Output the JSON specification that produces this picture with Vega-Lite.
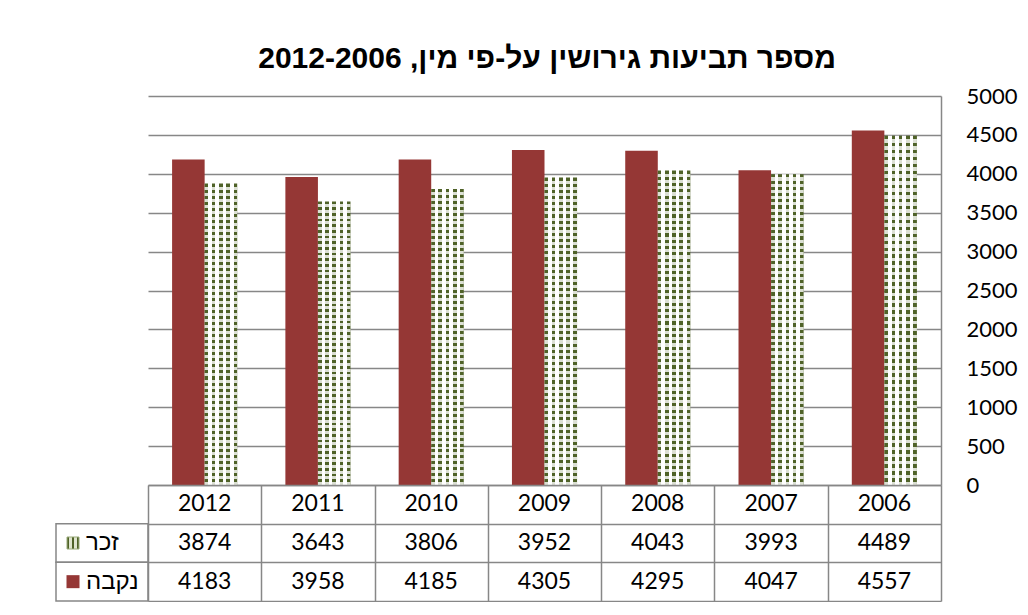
{
  "$schema": "https://vega.github.io/schema/vega-lite/v6.json",
  "background": "white",
  "padding": {"left": 55, "top": 44, "right": 0, "bottom": 0},
  "title": {"text": "\u202Bמספר תביעות גירושין על-פי מין, 2012-2006\u202C", "font": "Liberation Sans", "fontSize": 30, "fontWeight": "bold", "color": "#000000", "anchor": "middle", "offset": 11, "dx": 11},
  "datasets": {
    "divorce": [
      {"year": "2012", "sex": "זכר", "value": 3874},
      {"year": "2012", "sex": "נקבה", "value": 4183},
      {"year": "2011", "sex": "זכר", "value": 3643},
      {"year": "2011", "sex": "נקבה", "value": 3958},
      {"year": "2010", "sex": "זכר", "value": 3806},
      {"year": "2010", "sex": "נקבה", "value": 4185},
      {"year": "2009", "sex": "זכר", "value": 3952},
      {"year": "2009", "sex": "נקבה", "value": 4305},
      {"year": "2008", "sex": "זכר", "value": 4043},
      {"year": "2008", "sex": "נקבה", "value": 4295},
      {"year": "2007", "sex": "זכר", "value": 3993},
      {"year": "2007", "sex": "נקבה", "value": 4047},
      {"year": "2006", "sex": "זכר", "value": 4489},
      {"year": "2006", "sex": "נקבה", "value": 4557}
    ]
  },
  "columns": 2,
  "spacing": 0,
  "bounds": "flush",
  "concat": [
    {
      "width": 92, "height": 389,
      "data": {"name": "divorce"},
      "mark": {"type": "text", "text": ""}
    },
    {
      "width": 793, "height": 389,
      "data": {"name": "divorce"},
      "encoding": {
        "x": {"field": "year", "type": "nominal", "sort": "descending", "scale": {"paddingInner": 0, "paddingOuter": 0}, "axis": null},
        "xOffset": {"field": "sex", "type": "nominal", "scale": {"domain": ["נקבה", "זכר"], "paddingInner": 0, "paddingOuter": 0.74}},
        "y": {"field": "value", "type": "quantitative", "scale": {"domain": [0, 5000], "nice": false},
          "axis": {"orient": "right", "values": [0, 500, 1000, 1500, 2000, 2500, 3000, 3500, 4000, 4500, 5000], "format": "d", "title": null, "grid": true, "gridColor": "#878787", "gridWidth": 1.5, "domain": true, "domainColor": "#878787", "domainWidth": 1.5, "ticks": false, "labelPadding": 25, "labelAlign": "left", "labelFont": "Lato", "labelFontSize": 22, "labelColor": "#000000"}}
      },
      "layer": [
        {"transform": [{"filter": "datum.sex == 'נקבה'"}], "mark": {"type": "bar", "fill": "#953735"}},
        {"transform": [{"filter": "datum.sex == 'זכר'"}], "mark": {"type": "bar", "fill": {"gradient": "linear", "x1": 0, "y1": 0, "x2": 1, "y2": 0, "stops": [
          {"offset": 0, "color": "#4F6228"}, {"offset": 0.111, "color": "#4F6228"}, {"offset": 0.111, "color": "#ffffff"}, {"offset": 0.222, "color": "#ffffff"},
          {"offset": 0.222, "color": "#4F6228"}, {"offset": 0.333, "color": "#4F6228"}, {"offset": 0.333, "color": "#ffffff"}, {"offset": 0.444, "color": "#ffffff"},
          {"offset": 0.444, "color": "#4F6228"}, {"offset": 0.556, "color": "#4F6228"}, {"offset": 0.556, "color": "#ffffff"}, {"offset": 0.667, "color": "#ffffff"},
          {"offset": 0.667, "color": "#4F6228"}, {"offset": 0.778, "color": "#4F6228"}, {"offset": 0.778, "color": "#ffffff"}, {"offset": 0.889, "color": "#ffffff"},
          {"offset": 0.889, "color": "#4F6228"}, {"offset": 1, "color": "#4F6228"}]}}},
        {"transform": [{"filter": "datum.sex == 'זכר'"}], "mark": {"type": "bar", "fill": {"gradient": "linear", "x1": 0, "y1": 0, "x2": 0, "y2": 1, "stops": [
          {"offset": 0, "color": "rgba(255,255,255,0)"}, {"offset": 0.01, "color": "rgba(255,255,255,0)"}, {"offset": 0.01, "color": "rgba(255,255,255,0.8)"}, {"offset": 0.02, "color": "rgba(255,255,255,0.8)"},
          {"offset": 0.02, "color": "rgba(255,255,255,0)"}, {"offset": 0.03, "color": "rgba(255,255,255,0)"}, {"offset": 0.03, "color": "rgba(255,255,255,0.8)"}, {"offset": 0.04, "color": "rgba(255,255,255,0.8)"},
          {"offset": 0.04, "color": "rgba(255,255,255,0)"}, {"offset": 0.05, "color": "rgba(255,255,255,0)"}, {"offset": 0.05, "color": "rgba(255,255,255,0.8)"}, {"offset": 0.06, "color": "rgba(255,255,255,0.8)"},
          {"offset": 0.06, "color": "rgba(255,255,255,0)"}, {"offset": 0.07, "color": "rgba(255,255,255,0)"}, {"offset": 0.07, "color": "rgba(255,255,255,0.8)"}, {"offset": 0.08, "color": "rgba(255,255,255,0.8)"},
          {"offset": 0.08, "color": "rgba(255,255,255,0)"}, {"offset": 0.09, "color": "rgba(255,255,255,0)"}, {"offset": 0.09, "color": "rgba(255,255,255,0.8)"}, {"offset": 0.10, "color": "rgba(255,255,255,0.8)"},
          {"offset": 0.10, "color": "rgba(255,255,255,0)"}, {"offset": 0.11, "color": "rgba(255,255,255,0)"}, {"offset": 0.11, "color": "rgba(255,255,255,0.8)"}, {"offset": 0.12, "color": "rgba(255,255,255,0.8)"},
          {"offset": 0.12, "color": "rgba(255,255,255,0)"}, {"offset": 0.13, "color": "rgba(255,255,255,0)"}, {"offset": 0.13, "color": "rgba(255,255,255,0.8)"}, {"offset": 0.14, "color": "rgba(255,255,255,0.8)"},
          {"offset": 0.14, "color": "rgba(255,255,255,0)"}, {"offset": 0.15, "color": "rgba(255,255,255,0)"}, {"offset": 0.15, "color": "rgba(255,255,255,0.8)"}, {"offset": 0.16, "color": "rgba(255,255,255,0.8)"},
          {"offset": 0.16, "color": "rgba(255,255,255,0)"}, {"offset": 0.17, "color": "rgba(255,255,255,0)"}, {"offset": 0.17, "color": "rgba(255,255,255,0.8)"}, {"offset": 0.18, "color": "rgba(255,255,255,0.8)"},
          {"offset": 0.18, "color": "rgba(255,255,255,0)"}, {"offset": 0.19, "color": "rgba(255,255,255,0)"}, {"offset": 0.19, "color": "rgba(255,255,255,0.8)"}, {"offset": 0.20, "color": "rgba(255,255,255,0.8)"},
          {"offset": 0.20, "color": "rgba(255,255,255,0)"}, {"offset": 0.21, "color": "rgba(255,255,255,0)"}, {"offset": 0.21, "color": "rgba(255,255,255,0.8)"}, {"offset": 0.22, "color": "rgba(255,255,255,0.8)"},
          {"offset": 0.22, "color": "rgba(255,255,255,0)"}, {"offset": 0.23, "color": "rgba(255,255,255,0)"}, {"offset": 0.23, "color": "rgba(255,255,255,0.8)"}, {"offset": 0.24, "color": "rgba(255,255,255,0.8)"},
          {"offset": 0.24, "color": "rgba(255,255,255,0)"}, {"offset": 0.25, "color": "rgba(255,255,255,0)"}, {"offset": 0.25, "color": "rgba(255,255,255,0.8)"}, {"offset": 0.26, "color": "rgba(255,255,255,0.8)"},
          {"offset": 0.26, "color": "rgba(255,255,255,0)"}, {"offset": 0.27, "color": "rgba(255,255,255,0)"}, {"offset": 0.27, "color": "rgba(255,255,255,0.8)"}, {"offset": 0.28, "color": "rgba(255,255,255,0.8)"},
          {"offset": 0.28, "color": "rgba(255,255,255,0)"}, {"offset": 0.29, "color": "rgba(255,255,255,0)"}, {"offset": 0.29, "color": "rgba(255,255,255,0.8)"}, {"offset": 0.30, "color": "rgba(255,255,255,0.8)"},
          {"offset": 0.30, "color": "rgba(255,255,255,0)"}, {"offset": 0.31, "color": "rgba(255,255,255,0)"}, {"offset": 0.31, "color": "rgba(255,255,255,0.8)"}, {"offset": 0.32, "color": "rgba(255,255,255,0.8)"},
          {"offset": 0.32, "color": "rgba(255,255,255,0)"}, {"offset": 0.33, "color": "rgba(255,255,255,0)"}, {"offset": 0.33, "color": "rgba(255,255,255,0.8)"}, {"offset": 0.34, "color": "rgba(255,255,255,0.8)"},
          {"offset": 0.34, "color": "rgba(255,255,255,0)"}, {"offset": 0.35, "color": "rgba(255,255,255,0)"}, {"offset": 0.35, "color": "rgba(255,255,255,0.8)"}, {"offset": 0.36, "color": "rgba(255,255,255,0.8)"},
          {"offset": 0.36, "color": "rgba(255,255,255,0)"}, {"offset": 0.37, "color": "rgba(255,255,255,0)"}, {"offset": 0.37, "color": "rgba(255,255,255,0.8)"}, {"offset": 0.38, "color": "rgba(255,255,255,0.8)"},
          {"offset": 0.38, "color": "rgba(255,255,255,0)"}, {"offset": 0.39, "color": "rgba(255,255,255,0)"}, {"offset": 0.39, "color": "rgba(255,255,255,0.8)"}, {"offset": 0.40, "color": "rgba(255,255,255,0.8)"},
          {"offset": 0.40, "color": "rgba(255,255,255,0)"}, {"offset": 0.41, "color": "rgba(255,255,255,0)"}, {"offset": 0.41, "color": "rgba(255,255,255,0.8)"}, {"offset": 0.42, "color": "rgba(255,255,255,0.8)"},
          {"offset": 0.42, "color": "rgba(255,255,255,0)"}, {"offset": 0.43, "color": "rgba(255,255,255,0)"}, {"offset": 0.43, "color": "rgba(255,255,255,0.8)"}, {"offset": 0.44, "color": "rgba(255,255,255,0.8)"},
          {"offset": 0.44, "color": "rgba(255,255,255,0)"}, {"offset": 0.45, "color": "rgba(255,255,255,0)"}, {"offset": 0.45, "color": "rgba(255,255,255,0.8)"}, {"offset": 0.46, "color": "rgba(255,255,255,0.8)"},
          {"offset": 0.46, "color": "rgba(255,255,255,0)"}, {"offset": 0.47, "color": "rgba(255,255,255,0)"}, {"offset": 0.47, "color": "rgba(255,255,255,0.8)"}, {"offset": 0.48, "color": "rgba(255,255,255,0.8)"},
          {"offset": 0.48, "color": "rgba(255,255,255,0)"}, {"offset": 0.49, "color": "rgba(255,255,255,0)"}, {"offset": 0.49, "color": "rgba(255,255,255,0.8)"}, {"offset": 0.50, "color": "rgba(255,255,255,0.8)"},
          {"offset": 0.50, "color": "rgba(255,255,255,0)"}, {"offset": 0.51, "color": "rgba(255,255,255,0)"}, {"offset": 0.51, "color": "rgba(255,255,255,0.8)"}, {"offset": 0.52, "color": "rgba(255,255,255,0.8)"},
          {"offset": 0.52, "color": "rgba(255,255,255,0)"}, {"offset": 0.53, "color": "rgba(255,255,255,0)"}, {"offset": 0.53, "color": "rgba(255,255,255,0.8)"}, {"offset": 0.54, "color": "rgba(255,255,255,0.8)"},
          {"offset": 0.54, "color": "rgba(255,255,255,0)"}, {"offset": 0.55, "color": "rgba(255,255,255,0)"}, {"offset": 0.55, "color": "rgba(255,255,255,0.8)"}, {"offset": 0.56, "color": "rgba(255,255,255,0.8)"},
          {"offset": 0.56, "color": "rgba(255,255,255,0)"}, {"offset": 0.57, "color": "rgba(255,255,255,0)"}, {"offset": 0.57, "color": "rgba(255,255,255,0.8)"}, {"offset": 0.58, "color": "rgba(255,255,255,0.8)"},
          {"offset": 0.58, "color": "rgba(255,255,255,0)"}, {"offset": 0.59, "color": "rgba(255,255,255,0)"}, {"offset": 0.59, "color": "rgba(255,255,255,0.8)"}, {"offset": 0.60, "color": "rgba(255,255,255,0.8)"},
          {"offset": 0.60, "color": "rgba(255,255,255,0)"}, {"offset": 0.61, "color": "rgba(255,255,255,0)"}, {"offset": 0.61, "color": "rgba(255,255,255,0.8)"}, {"offset": 0.62, "color": "rgba(255,255,255,0.8)"},
          {"offset": 0.62, "color": "rgba(255,255,255,0)"}, {"offset": 0.63, "color": "rgba(255,255,255,0)"}, {"offset": 0.63, "color": "rgba(255,255,255,0.8)"}, {"offset": 0.64, "color": "rgba(255,255,255,0.8)"},
          {"offset": 0.64, "color": "rgba(255,255,255,0)"}, {"offset": 0.65, "color": "rgba(255,255,255,0)"}, {"offset": 0.65, "color": "rgba(255,255,255,0.8)"}, {"offset": 0.66, "color": "rgba(255,255,255,0.8)"},
          {"offset": 0.66, "color": "rgba(255,255,255,0)"}, {"offset": 0.67, "color": "rgba(255,255,255,0)"}, {"offset": 0.67, "color": "rgba(255,255,255,0.8)"}, {"offset": 0.68, "color": "rgba(255,255,255,0.8)"},
          {"offset": 0.68, "color": "rgba(255,255,255,0)"}, {"offset": 0.69, "color": "rgba(255,255,255,0)"}, {"offset": 0.69, "color": "rgba(255,255,255,0.8)"}, {"offset": 0.70, "color": "rgba(255,255,255,0.8)"},
          {"offset": 0.70, "color": "rgba(255,255,255,0)"}, {"offset": 0.71, "color": "rgba(255,255,255,0)"}, {"offset": 0.71, "color": "rgba(255,255,255,0.8)"}, {"offset": 0.72, "color": "rgba(255,255,255,0.8)"},
          {"offset": 0.72, "color": "rgba(255,255,255,0)"}, {"offset": 0.73, "color": "rgba(255,255,255,0)"}, {"offset": 0.73, "color": "rgba(255,255,255,0.8)"}, {"offset": 0.74, "color": "rgba(255,255,255,0.8)"},
          {"offset": 0.74, "color": "rgba(255,255,255,0)"}, {"offset": 0.75, "color": "rgba(255,255,255,0)"}, {"offset": 0.75, "color": "rgba(255,255,255,0.8)"}, {"offset": 0.76, "color": "rgba(255,255,255,0.8)"},
          {"offset": 0.76, "color": "rgba(255,255,255,0)"}, {"offset": 0.77, "color": "rgba(255,255,255,0)"}, {"offset": 0.77, "color": "rgba(255,255,255,0.8)"}, {"offset": 0.78, "color": "rgba(255,255,255,0.8)"},
          {"offset": 0.78, "color": "rgba(255,255,255,0)"}, {"offset": 0.79, "color": "rgba(255,255,255,0)"}, {"offset": 0.79, "color": "rgba(255,255,255,0.8)"}, {"offset": 0.80, "color": "rgba(255,255,255,0.8)"},
          {"offset": 0.80, "color": "rgba(255,255,255,0)"}, {"offset": 0.81, "color": "rgba(255,255,255,0)"}, {"offset": 0.81, "color": "rgba(255,255,255,0.8)"}, {"offset": 0.82, "color": "rgba(255,255,255,0.8)"},
          {"offset": 0.82, "color": "rgba(255,255,255,0)"}, {"offset": 0.83, "color": "rgba(255,255,255,0)"}, {"offset": 0.83, "color": "rgba(255,255,255,0.8)"}, {"offset": 0.84, "color": "rgba(255,255,255,0.8)"},
          {"offset": 0.84, "color": "rgba(255,255,255,0)"}, {"offset": 0.85, "color": "rgba(255,255,255,0)"}, {"offset": 0.85, "color": "rgba(255,255,255,0.8)"}, {"offset": 0.86, "color": "rgba(255,255,255,0.8)"},
          {"offset": 0.86, "color": "rgba(255,255,255,0)"}, {"offset": 0.87, "color": "rgba(255,255,255,0)"}, {"offset": 0.87, "color": "rgba(255,255,255,0.8)"}, {"offset": 0.88, "color": "rgba(255,255,255,0.8)"},
          {"offset": 0.88, "color": "rgba(255,255,255,0)"}, {"offset": 0.89, "color": "rgba(255,255,255,0)"}, {"offset": 0.89, "color": "rgba(255,255,255,0.8)"}, {"offset": 0.90, "color": "rgba(255,255,255,0.8)"},
          {"offset": 0.90, "color": "rgba(255,255,255,0)"}, {"offset": 0.91, "color": "rgba(255,255,255,0)"}, {"offset": 0.91, "color": "rgba(255,255,255,0.8)"}, {"offset": 0.92, "color": "rgba(255,255,255,0.8)"},
          {"offset": 0.92, "color": "rgba(255,255,255,0)"}, {"offset": 0.93, "color": "rgba(255,255,255,0)"}, {"offset": 0.93, "color": "rgba(255,255,255,0.8)"}, {"offset": 0.94, "color": "rgba(255,255,255,0.8)"},
          {"offset": 0.94, "color": "rgba(255,255,255,0)"}, {"offset": 0.95, "color": "rgba(255,255,255,0)"}, {"offset": 0.95, "color": "rgba(255,255,255,0.8)"}, {"offset": 0.96, "color": "rgba(255,255,255,0.8)"},
          {"offset": 0.96, "color": "rgba(255,255,255,0)"}, {"offset": 0.97, "color": "rgba(255,255,255,0)"}, {"offset": 0.97, "color": "rgba(255,255,255,0.8)"}, {"offset": 0.98, "color": "rgba(255,255,255,0.8)"},
          {"offset": 0.98, "color": "rgba(255,255,255,0)"}, {"offset": 0.99, "color": "rgba(255,255,255,0)"}, {"offset": 0.99, "color": "rgba(255,255,255,0.8)"}, {"offset": 1, "color": "rgba(255,255,255,0.8)"}
        ]}}}
      ]
    },
    {
      "width": 92, "height": 116,
      "data": {"name": "divorce"},
      "transform": [{"filter": "datum.year == '2012'"}],
      "encoding": {
        "y": {"field": "sex", "type": "nominal", "scale": {"domain": ["שנה", "זכר", "נקבה"], "paddingInner": 0, "paddingOuter": 0}, "axis": null}
      },
      "layer": [
        {"mark": {"type": "rect", "fill": "white", "stroke": "#878787", "strokeWidth": 1.5}},
        {"mark": {"type": "text", "align": "left", "dx": -16, "font": "Liberation Sans", "fontSize": 24, "color": "#000000"}, "encoding": {"text": {"field": "sex"}}},
        {"transform": [{"filter": "datum.sex == 'נקבה'"}], "mark": {"type": "point", "shape": "square", "size": 169, "filled": true, "fill": "#953735", "opacity": 1, "xOffset": -29}},
        {"transform": [{"filter": "datum.sex == 'זכר'"}], "mark": {"type": "point", "shape": "square", "size": 144, "filled": true, "opacity": 1, "xOffset": -29, "stroke": "#9bab7a", "strokeWidth": 1, "fill": {"gradient": "linear", "x1": 0, "y1": 0, "x2": 1, "y2": 0, "stops": [
          {"offset": 0, "color": "#4F6228"}, {"offset": 0.2, "color": "#4F6228"}, {"offset": 0.2, "color": "#dfe5cf"}, {"offset": 0.4, "color": "#dfe5cf"},
          {"offset": 0.4, "color": "#4F6228"}, {"offset": 0.6, "color": "#4F6228"}, {"offset": 0.6, "color": "#dfe5cf"}, {"offset": 0.8, "color": "#dfe5cf"},
          {"offset": 0.8, "color": "#4F6228"}, {"offset": 1, "color": "#4F6228"}]}}}
      ]
    },
    {
      "width": 793, "height": 116,
      "data": {"name": "divorce"},
      "encoding": {
        "x": {"field": "year", "type": "nominal", "sort": "descending", "scale": {"paddingInner": 0, "paddingOuter": 0},
          "axis": {"grid": true, "tickBand": "extent", "labels": false, "ticks": false, "domain": false, "title": null, "gridColor": "#878787", "gridWidth": 1.5}}
      },
      "layer": [
        {"transform": [{"filter": "datum.sex == 'זכר'"}],
         "mark": {"type": "text", "font": "Lato", "fontSize": 23, "color": "#000000"},
         "encoding": {
           "y": {"datum": "שנה", "type": "nominal", "scale": {"domain": ["שנה", "זכר", "נקבה"], "paddingInner": 0, "paddingOuter": 0},
             "axis": {"grid": true, "tickBand": "extent", "labels": false, "ticks": false, "domain": false, "title": null, "gridColor": "#878787", "gridWidth": 1.5}},
           "text": {"field": "year"}
         }},
        {"mark": {"type": "text", "font": "Lato", "fontSize": 23, "color": "#000000"},
         "encoding": {
           "y": {"field": "sex", "type": "nominal", "scale": {"domain": ["שנה", "זכר", "נקבה"], "paddingInner": 0, "paddingOuter": 0},
             "axis": {"grid": true, "tickBand": "extent", "labels": false, "ticks": false, "domain": false, "title": null, "gridColor": "#878787", "gridWidth": 1.5}},
           "text": {"field": "value", "type": "quantitative", "format": "d"}
         }}
      ]
    }
  ],
  "config": {
    "view": {"stroke": null}
  }
}
